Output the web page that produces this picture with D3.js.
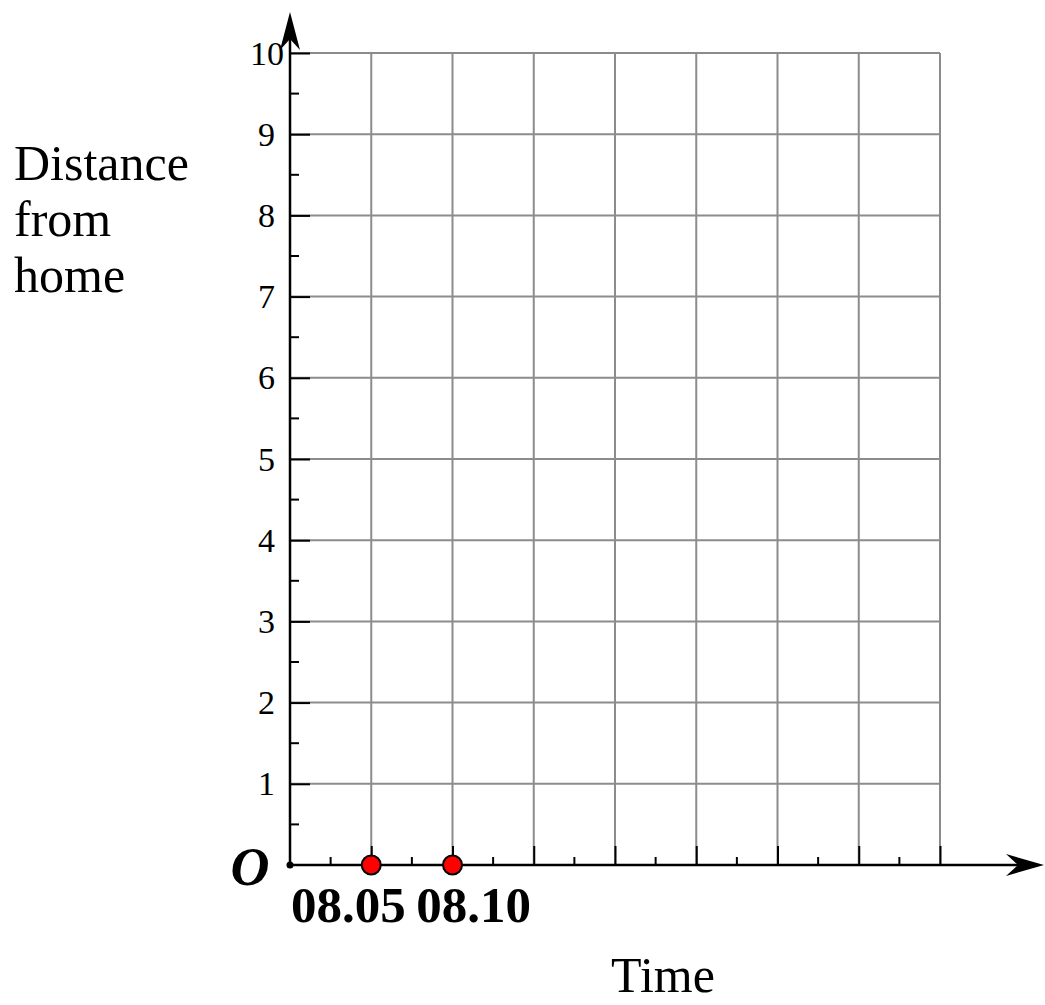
<!DOCTYPE html>
<html>
<head>
<meta charset="utf-8">
<script src="https://cdn.jsdelivr.net/npm/d3@7"></script>
<style>
  html, body { margin: 0; padding: 0; background: #fff; }
  svg { display: block; }
  text { font-family: "Liberation Serif", "Times New Roman", serif; fill: #000; }
</style>
</head>
<body>
<svg id="chart" width="1045" height="1005"></svg>
<script>
// ---- data ----
const yTickValues = [1, 2, 3, 4, 5, 6, 7, 8, 9, 10];
const yTickLabels = ["1", "2", "3", "4", "5", "6", "7", "8", "9", "10"];
const xGridMinutes = [5, 10, 15, 20, 25, 30, 35, 40];   // minutes after 08.00
const xLabelMinutes = [5, 10];
const xLabels = ["08.05", "08.10"];
const pointMinutes = [5, 10];
const pointDistance = [0, 0];
const yTitleLines = ["Distance", "from", "home"];
const xTitle = "Time";
const originLabel = "O";

// ---- layout ----
const svg = d3.select("#chart");
const x = d3.scaleLinear().domain([0, 40]).range([290, 940]);
const y = d3.scaleLinear().domain([0, 10]).range([865, 53]);

const gridColor = "#8c8c8c";

// grid lines
const grid = svg.append("g");
grid.selectAll("line.h").data(yTickValues).join("line")
  .attr("x1", x(0)).attr("x2", x(40))
  .attr("y1", d => y(d)).attr("y2", d => y(d))
  .attr("stroke", gridColor).attr("stroke-width", 2);
grid.selectAll("line.v").data(xGridMinutes).join("line")
  .attr("x1", d => x(d)).attr("x2", d => x(d))
  .attr("y1", y(0)).attr("y2", y(10))
  .attr("stroke", gridColor).attr("stroke-width", 2);

// y axis ticks via d3 axis (major), minor ticks separately
const yAxis = d3.axisRight(y).tickValues(yTickValues).tickSize(20).tickFormat("");
const gy = svg.append("g").attr("transform", `translate(${x(0)},0)`).call(yAxis);
gy.select(".domain").remove();
gy.selectAll(".tick line").attr("stroke", "#000").attr("stroke-width", 2);

const yMinor = d3.range(0.5, 10, 1);
svg.append("g").selectAll("line").data(yMinor).join("line")
  .attr("x1", x(0)).attr("x2", x(0) + 9)
  .attr("y1", d => y(d)).attr("y2", d => y(d))
  .attr("stroke", "#000").attr("stroke-width", 2);

// x axis ticks
const xAxis = d3.axisTop(x).tickValues(xGridMinutes).tickSize(19).tickFormat("");
const gx = svg.append("g").attr("transform", `translate(0,${y(0)})`).call(xAxis);
gx.select(".domain").remove();
gx.selectAll(".tick line").attr("stroke", "#000").attr("stroke-width", 2);

const xMinor = d3.range(2.5, 40, 5);
svg.append("g").selectAll("line").data(xMinor).join("line")
  .attr("x1", d => x(d)).attr("x2", d => x(d))
  .attr("y1", y(0)).attr("y2", y(0) - 8)
  .attr("stroke", "#000").attr("stroke-width", 2);

// main axes lines
svg.append("line").attr("x1", x(0)).attr("x2", x(0))
  .attr("y1", y(0)).attr("y2", 20)
  .attr("stroke", "#000").attr("stroke-width", 2.5);
svg.append("line").attr("x1", x(0)).attr("x2", 1035)
  .attr("y1", y(0)).attr("y2", y(0))
  .attr("stroke", "#000").attr("stroke-width", 2.5);

// arrowheads
const ax = x(0);
svg.append("path")
  .attr("d", `M${ax},12 L${ax + 10},50 L${ax},39 L${ax - 10},50 Z`)
  .attr("fill", "#000");
const ay = y(0);
svg.append("path")
  .attr("d", `M1044,${ay} L1006,${ay - 11} L1018,${ay} L1006,${ay + 11} Z`)
  .attr("fill", "#000");

// origin dot
svg.append("circle").attr("cx", x(0)).attr("cy", y(0)).attr("r", 3.5).attr("fill", "#000");

// y tick labels
svg.append("g").selectAll("text").data(yTickValues).join("text")
  .attr("x", (d) => d === 10 ? 284 : 275).attr("y", d => y(d))
  .attr("dy", "0.34em")
  .attr("text-anchor", "end")
  .attr("font-size", 34)
  .text((d, i) => yTickLabels[i]);

// origin label
svg.append("text").attr("x", 250).attr("y", 885)
  .attr("text-anchor", "middle")
  .attr("font-size", 54).attr("font-weight", "bold").attr("font-style", "italic")
  .text(originLabel);

// x labels
const xLabelDx = [-23, 21];
svg.append("g").selectAll("text").data(xLabelMinutes).join("text")
  .attr("x", (d, i) => x(d) + xLabelDx[i]).attr("y", 922)
  .attr("text-anchor", "middle")
  .attr("font-size", 51).attr("font-weight", "bold")
  .text((d, i) => xLabels[i]);

// points
svg.append("g").selectAll("circle").data(pointMinutes).join("circle")
  .attr("cx", d => x(d)).attr("cy", (d, i) => y(pointDistance[i]))
  .attr("r", 9.5)
  .attr("fill", "#ff0000").attr("stroke", "#000").attr("stroke-width", 2);

// axis titles
svg.append("g").selectAll("text").data(yTitleLines).join("text")
  .attr("x", 14).attr("y", (d, i) => 180 + i * 56)
  .attr("font-size", 50)
  .text(d => d);

svg.append("text").attr("x", 663).attr("y", 992)
  .attr("text-anchor", "middle").attr("font-size", 50)
  .text(xTitle);
</script>
</body>
</html>
